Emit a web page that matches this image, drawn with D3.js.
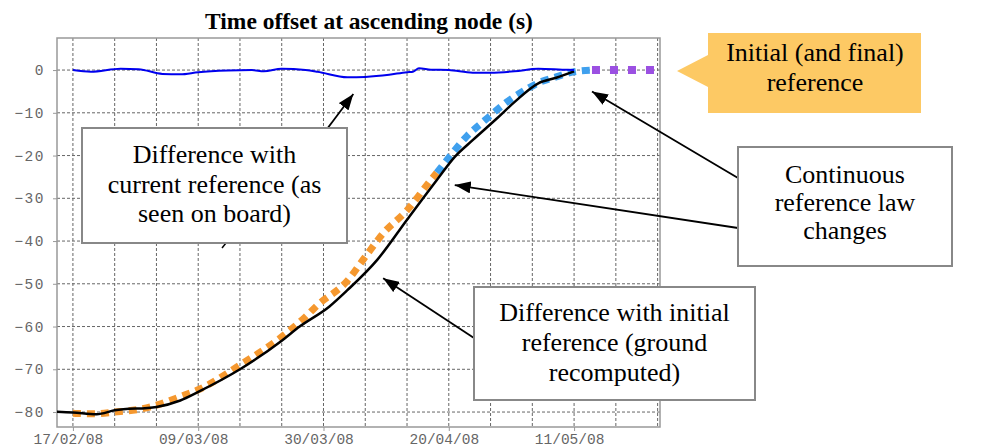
<!DOCTYPE html>
<html>
<head>
<meta charset="utf-8">
<script src="https://cdn.jsdelivr.net/npm/d3@7"></script>
<style>
  body { margin: 0; background: #fff; }
  svg { display: block; }
  .axis path, .axis line { stroke: #999; }
  .axis text { font-family: "Liberation Mono", monospace; font-size: 14.5px; fill: #666; }
  .grid line { stroke: #666; stroke-dasharray: 3,2; }
  .note text { font-family: "Liberation Serif", serif; font-size: 26px; fill: #000; }
</style>
</head>
<body>
<div id="chart"></div>
<script>
// tick labels (dd/mm/yy) and y ticks
var tickLabels = ['17/02/08', '09/03/08', '30/03/08', '20/04/08', '11/05/08'];
var yTicks = [0, -10, -20, -30, -40, -50, -60, -70, -80];

// difference with current reference (as seen on board)
var currentDates = ['2008-02-17', '2008-02-20', '2008-02-25', '2008-02-28', '2008-03-03', '2008-03-06',
    '2008-03-09', '2008-03-14', '2008-03-18', '2008-03-20', '2008-03-23', '2008-03-27', '2008-03-29',
    '2008-04-03', '2008-04-06', '2008-04-10', '2008-04-13', '2008-04-14', '2008-04-15', '2008-04-17',
    '2008-04-20', '2008-04-24', '2008-04-27', '2008-05-01', '2008-05-05', '2008-05-09', '2008-05-11'];
var currentValues = [0, -0.4, 0.3, 0.2, -0.9, -1.0,
    -0.5, -0.1, 0, -0.3, 0.3, 0, -0.4,
    -1.7, -1.6, -1.1, -0.5, -0.4, 0.4, 0.1,
    0, -0.6, -0.6, -0.3, 0.3, 0.1, 0];

// difference with initial reference (ground recomputed)
var groundDates = ['2008-02-14', '2008-02-17', '2008-02-21', '2008-02-24', '2008-03-02', '2008-03-06',
    '2008-03-09', '2008-03-16', '2008-03-23', '2008-03-26', '2008-03-31', '2008-04-03', '2008-04-08',
    '2008-04-13', '2008-04-18', '2008-04-21', '2008-04-24', '2008-04-28', '2008-05-01', '2008-05-05',
    '2008-05-08', '2008-05-11'];
var groundValues = [-79.9, -80.1, -80.5, -79.6, -78.8, -77.3,
    -75.3, -70, -63.3, -60, -55.3, -51.5, -44.4,
    -35, -25.7, -20.3, -16.4, -11.4, -7.5, -3.1,
    -1.8, -0.3];

// reference law, first part (orange)
var lawADates = ['2008-02-17', '2008-02-21', '2008-02-24', '2008-02-27', '2008-03-02', '2008-03-06',
    '2008-03-09', '2008-03-16', '2008-03-23', '2008-03-27', '2008-03-29', '2008-04-03', '2008-04-06',
    '2008-04-09', '2008-04-13', '2008-04-17', '2008-04-18'];
var lawAValues = [-80.3, -80.4, -80, -79.6, -78.4, -76.4,
    -74.8, -69, -62.4, -57.7, -55, -49.3, -43.7,
    -38.2, -32.8, -25.7, -24];

// reference law, later part (light blue)
var lawBDates = ['2008-04-18', '2008-04-20', '2008-04-23', '2008-04-26', '2008-04-30', '2008-05-03',
    '2008-05-05', '2008-05-08', '2008-05-11', '2008-05-14'];
var lawBValues = [-24, -20.5, -15.5, -11.8, -7.2, -4.5, -3.0, -1.6, -0.4, 0];

// initial (and final) reference (purple)
var finalDates = ['2008-05-14', '2008-05-25'];
var finalValues = [0, 0];

var W = 983, H = 447;
var plot = {l: 57, r: 660, t: 38, b: 427};
var parseDate = d3.utcParse('%Y-%m-%d');
var parseTick = d3.utcParse('%d/%m/%y');

function toPoints(dates, values) {
    return dates.map(function(d, i) { return [parseDate(d), values[i]]; });
}

var svg = d3.select('#chart').append('svg')
    .attr('width', W)
    .attr('height', H);

// arrow head marker
svg.append('defs').append('marker')
    .attr('id', 'head')
    .attr('viewBox', '0 0 16 12')
    .attr('refX', 16).attr('refY', 6)
    .attr('markerWidth', 16).attr('markerHeight', 12)
    .attr('markerUnits', 'userSpaceOnUse')
    .attr('orient', 'auto')
    .append('path').attr('d', 'M0,0L16,6L0,12Z').attr('fill', '#000');

svg.select('defs').append('clipPath').attr('id', 'clip')
    .append('rect')
    .attr('x', plot.l).attr('y', plot.t)
    .attr('width', plot.r - plot.l).attr('height', plot.b - plot.t);

// scales
var x = d3.scaleUtc()
    .domain([new Date(Date.UTC(2008, 1, 14, 8)), new Date(Date.UTC(2008, 4, 25, 9, 36))])
    .range([plot.l, plot.r]);

var y = d3.scaleLinear()
    .domain([-83.5, 7.5])
    .range([plot.b, plot.t]);

// title
svg.append('text')
    .attr('x', 369).attr('y', 29)
    .attr('text-anchor', 'middle')
    .style('font-family', '"Liberation Serif", serif')
    .style('font-size', '23.5px')
    .style('font-weight', 'bold')
    .text('Time offset at ascending node (s)');

// grid lines
var grid = svg.append('g').attr('class', 'grid');
grid.selectAll('.gx').data(d3.utcSunday.range(x.domain()[0], x.domain()[1])).enter()
    .append('line')
    .attr('x1', function(d) { return x(d); }).attr('x2', function(d) { return x(d); })
    .attr('y1', plot.t).attr('y2', plot.b);
grid.selectAll('.gy').data(yTicks).enter()
    .append('line')
    .attr('x1', plot.l).attr('x2', plot.r)
    .attr('y1', function(d) { return y(d); }).attr('y2', function(d) { return y(d); });

// frame
svg.append('rect')
    .attr('x', plot.l).attr('y', plot.t)
    .attr('width', plot.r - plot.l).attr('height', plot.b - plot.t)
    .attr('fill', 'none').attr('stroke', '#999').attr('stroke-width', 1.5);

// axes
svg.append('g').attr('class', 'axis')
    .attr('transform', 'translate(0,' + plot.b + ')')
    .call(d3.axisBottom(x)
        .tickValues(tickLabels.map(parseTick))
        .tickFormat(d3.utcFormat('%d/%m/%y'))
        .tickSizeInner(4).tickSizeOuter(0).tickPadding(3))
    .call(function(g) { g.select('.domain').remove(); })
    .selectAll('text').attr('dx', -5);

svg.append('g').attr('class', 'axis')
    .attr('transform', 'translate(' + plot.l + ',0)')
    .call(d3.axisLeft(y)
        .tickValues(yTicks)
        .tickSizeInner(4).tickSizeOuter(0).tickPadding(8))
    .call(function(g) { g.select('.domain').remove(); })
    .selectAll('text').style('letter-spacing', '1.5px');

// series
var line = d3.line()
    .x(function(d) { return x(d[0]); })
    .y(function(d) { return y(d[1]); })
    .curve(d3.curveMonotoneX);

var series = svg.append('g').attr('clip-path', 'url(#clip)');

series.append('path').datum(toPoints(finalDates, finalValues))
    .attr('d', line).attr('fill', 'none')
    .attr('stroke', '#9b50e2').attr('stroke-width', 8)
    .attr('stroke-dasharray', '8,10');

series.append('path').datum(toPoints(lawADates, lawAValues))
    .attr('d', line).attr('fill', 'none')
    .attr('stroke', '#f5982f').attr('stroke-width', 7)
    .attr('stroke-dasharray', '8,6');

series.append('path').datum(toPoints(lawBDates, lawBValues))
    .attr('d', line).attr('fill', 'none')
    .attr('stroke', '#3fa0ee').attr('stroke-width', 7)
    .attr('stroke-dasharray', '8,6');

series.append('path').datum(toPoints(groundDates, groundValues))
    .attr('d', line).attr('fill', 'none')
    .attr('stroke', '#000').attr('stroke-width', 2.5);

series.append('path').datum(toPoints(currentDates, currentValues))
    .attr('d', line).attr('fill', 'none')
    .attr('stroke', '#0000ee').attr('stroke-width', 2);

// annotations: boxes with text, arrows pointing at the curves
function note(bx, by, bw, bh, lines, baselines) {
    var g = svg.append('g').attr('class', 'note');
    g.append('rect')
        .attr('x', bx).attr('y', by).attr('width', bw).attr('height', bh)
        .attr('fill', '#fff').attr('stroke', '#888').attr('stroke-width', 2);
    g.selectAll('text').data(lines).enter().append('text')
        .attr('x', bx + bw / 2)
        .attr('y', function(d, i) { return baselines[i]; })
        .attr('text-anchor', 'middle')
        .text(function(d) { return d; });
}

function arrow(x1, y1, date, value) {
    svg.append('line')
        .attr('x1', x1).attr('y1', y1)
        .attr('x2', x(parseDate(date))).attr('y2', y(value))
        .attr('stroke', '#000').attr('stroke-width', 1.8)
        .attr('marker-end', 'url(#head)');
}

// small piece of a hidden leader showing under the first box
svg.append('line')
    .attr('x1', 226).attr('y1', 243).attr('x2', 222).attr('y2', 248)
    .attr('stroke', '#000').attr('stroke-width', 1.5);

arrow(327, 129, '2008-04-04', -5.6);
note(82, 128, 265, 115, ['Difference with', 'current reference (as', 'seen on board)'], [163, 193, 222]);

arrow(474, 338, '2008-04-09', -48.7);
note(474, 287, 281, 113, ['Difference with initial', 'reference (ground', 'recomputed)'], [321, 351, 381]);

arrow(738, 178, '2008-05-14', -5.0);
arrow(738, 228, '2008-04-21', -26.9);
note(738, 147, 214, 119, ['Continuous', 'reference law', 'changes'], [183, 211, 239]);

// orange callout for initial (and final) reference
var callout = svg.append('g').attr('class', 'note');
callout.append('path')
    .attr('d', 'M677,71L708,55L708,33L921,33L921,113L708,113L708,87Z')
    .attr('fill', '#fdc964');
callout.selectAll('text').data(['Initial (and final)', 'reference']).enter().append('text')
    .attr('x', 815)
    .attr('y', function(d, i) { return 61 + i * 30; })
    .attr('text-anchor', 'middle')
    .text(function(d) { return d; });
</script>
</body>
</html>
